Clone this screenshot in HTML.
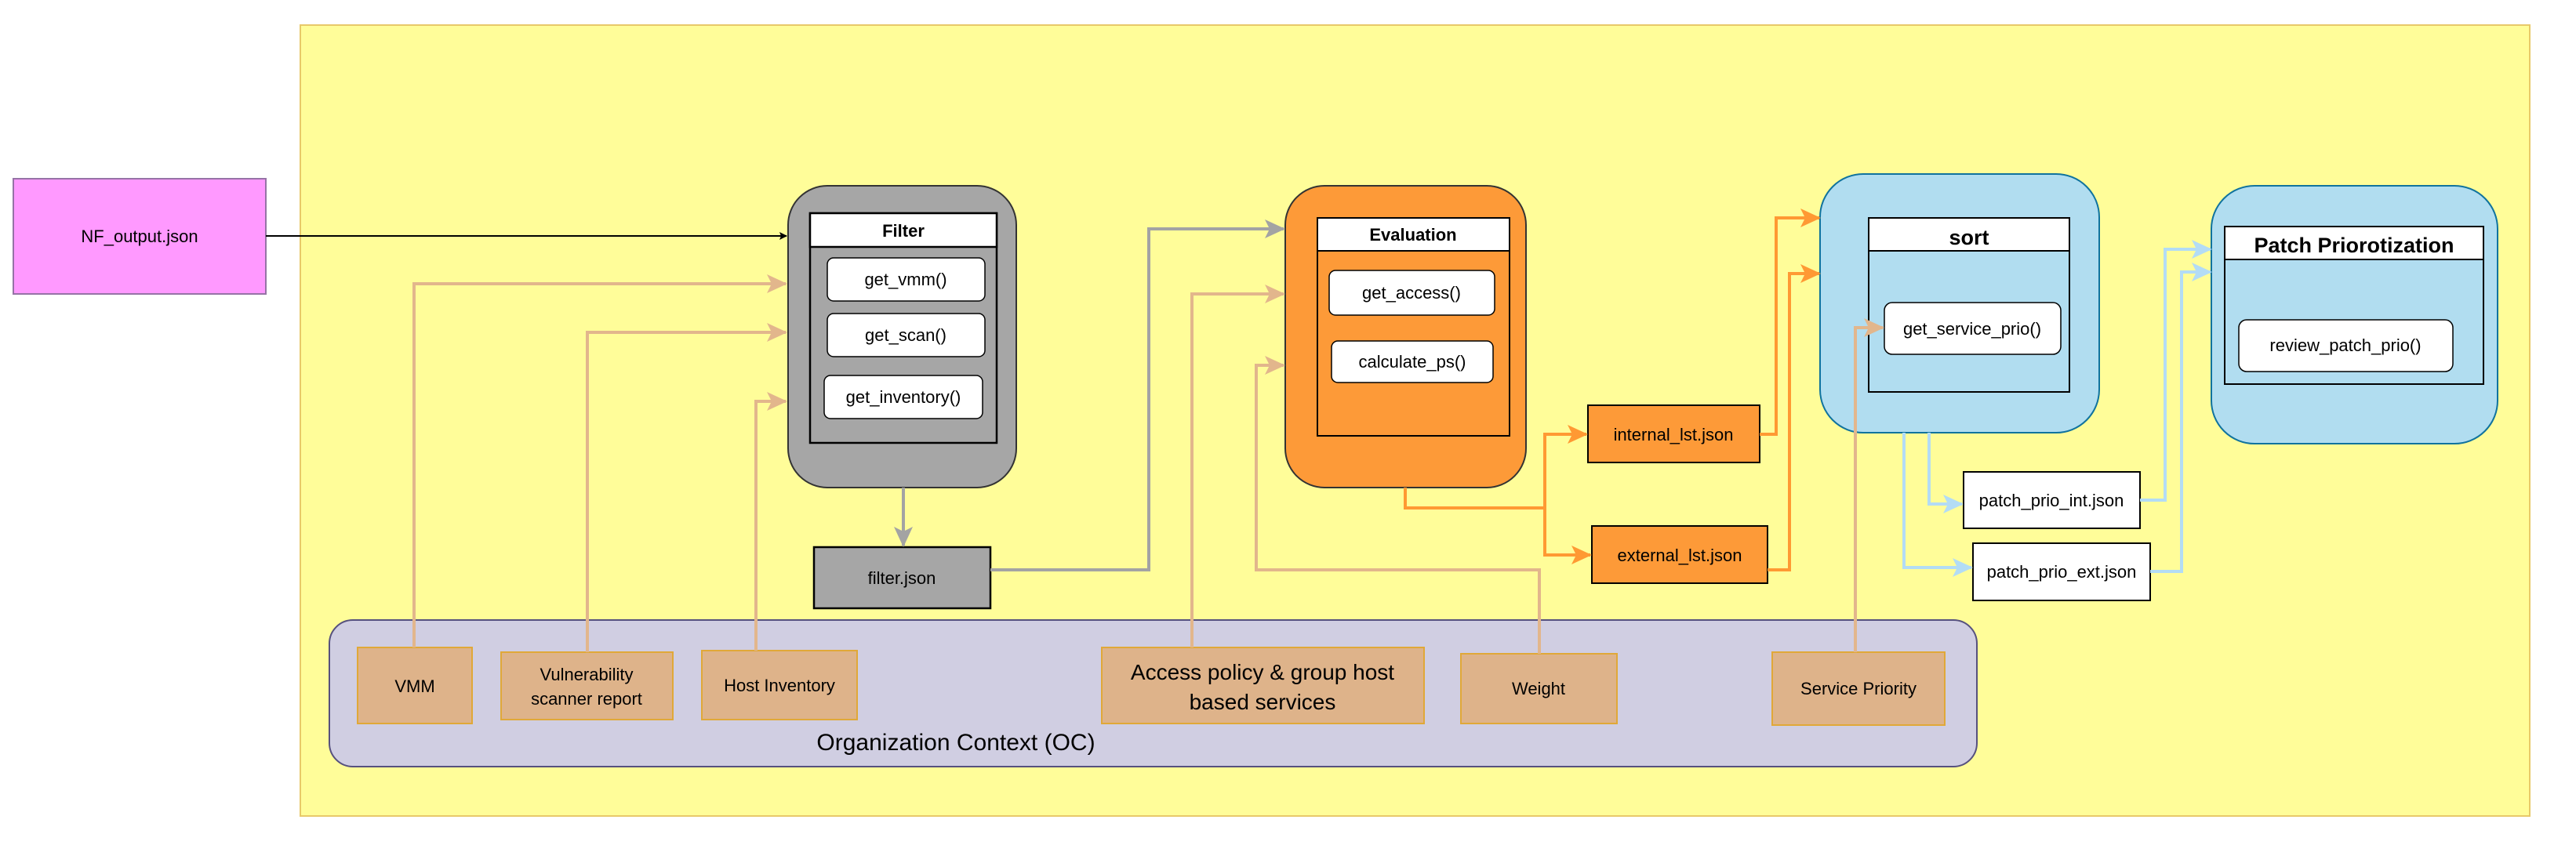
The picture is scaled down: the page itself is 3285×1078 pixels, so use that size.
<!DOCTYPE html>
<html><head><meta charset="utf-8"><style>
html,body{margin:0;padding:0;background:#fff;}
svg{display:block;}
text{font-family:"Liberation Sans",sans-serif;fill:#000;}
</style></head><body>
<svg width="3285" height="1078" viewBox="0 0 3285 1078" xmlns="http://www.w3.org/2000/svg">
<defs>
<marker id="mk" markerWidth="10" markerHeight="10" refX="9" refY="5" orient="auto" markerUnits="userSpaceOnUse" viewBox="0 0 10 10"><path d="M0,0 L10,5 L0,10 L2,5 Z" fill="#000"/></marker>
<marker id="mt" markerWidth="26" markerHeight="26" refX="24" refY="13" orient="auto" markerUnits="userSpaceOnUse" viewBox="0 0 26 26"><path d="M0,1 L26,13 L0,25 L6,13 Z" fill="#e2b68c"/></marker>
<marker id="mg" markerWidth="26" markerHeight="26" refX="24" refY="13" orient="auto" markerUnits="userSpaceOnUse" viewBox="0 0 26 26"><path d="M0,1 L26,13 L0,25 L6,13 Z" fill="#a3a3a3"/></marker>
<marker id="mo" markerWidth="26" markerHeight="26" refX="24" refY="13" orient="auto" markerUnits="userSpaceOnUse" viewBox="0 0 26 26"><path d="M0,1 L26,13 L0,25 L6,13 Z" fill="#ff9933"/></marker>
<marker id="mb" markerWidth="26" markerHeight="26" refX="24" refY="13" orient="auto" markerUnits="userSpaceOnUse" viewBox="0 0 26 26"><path d="M0,1 L26,13 L0,25 L6,13 Z" fill="#b3dcf5"/></marker>
</defs>

<!-- yellow container -->
<rect x="383" y="32" width="2843" height="1009" fill="#fffd99" stroke="#e8c96a" stroke-width="2"/>

<!-- NF_output -->
<rect x="17" y="228" width="322" height="147" fill="#ff99ff" stroke="#9673a6" stroke-width="2"/>
<text x="178" y="309" font-size="22" text-anchor="middle">NF_output.json</text>

<!-- OC -->
<rect x="420" y="791" width="2101" height="187" rx="30" fill="#d0cee2" stroke="#56517e" stroke-width="2"/>
<text x="1219" y="957" font-size="30" text-anchor="middle">Organization Context (OC)</text>

<!-- Filter -->
<rect x="1005" y="237" width="291" height="385" rx="50" fill="#a6a6a6" stroke="#333" stroke-width="2"/>
<rect x="1033" y="272" width="238" height="293" fill="#a6a6a6" stroke="#000" stroke-width="2.5"/>
<rect x="1033" y="272" width="238" height="43" fill="#fff" stroke="#000" stroke-width="2.5"/>
<text x="1152" y="302" font-size="22" font-weight="bold" text-anchor="middle">Filter</text>
<rect x="1055" y="329" width="201" height="55" rx="8" fill="#fff" stroke="#000" stroke-width="1.5"/>
<text x="1155" y="364" font-size="22" text-anchor="middle">get_vmm()</text>
<rect x="1055" y="400" width="201" height="55" rx="8" fill="#fff" stroke="#000" stroke-width="1.5"/>
<text x="1155" y="435" font-size="22" text-anchor="middle">get_scan()</text>
<rect x="1051" y="479" width="202" height="55" rx="8" fill="#fff" stroke="#000" stroke-width="1.5"/>
<text x="1152" y="514" font-size="22" text-anchor="middle">get_inventory()</text>

<!-- filter.json -->
<rect x="1038" y="698" width="225" height="78" fill="#a6a6a6" stroke="#000" stroke-width="2.5"/>
<text x="1150" y="745" font-size="22" text-anchor="middle">filter.json</text>

<!-- Evaluation -->
<rect x="1639" y="237" width="307" height="385" rx="50" fill="#fd9a38" stroke="#333" stroke-width="2"/>
<rect x="1680" y="278" width="245" height="278" fill="#fd9a38" stroke="#000" stroke-width="2"/>
<rect x="1680" y="278" width="245" height="42" fill="#fff" stroke="#000" stroke-width="2"/>
<text x="1802" y="307" font-size="22" font-weight="bold" text-anchor="middle">Evaluation</text>
<rect x="1695" y="345" width="211" height="57" rx="8" fill="#fff" stroke="#000" stroke-width="1.5"/>
<text x="1800" y="381" font-size="22" text-anchor="middle">get_access()</text>
<rect x="1698" y="435" width="206" height="53" rx="8" fill="#fff" stroke="#000" stroke-width="1.5"/>
<text x="1801" y="469" font-size="22" text-anchor="middle">calculate_ps()</text>

<!-- internal / external -->
<rect x="2025" y="517" width="219" height="73" fill="#fd9a38" stroke="#000" stroke-width="2"/>
<text x="2134" y="562" font-size="22" text-anchor="middle">internal_lst.json</text>
<rect x="2030" y="671" width="224" height="73" fill="#fd9a38" stroke="#000" stroke-width="2"/>
<text x="2142" y="716" font-size="22" text-anchor="middle">external_lst.json</text>

<!-- sort -->
<rect x="2321" y="222" width="356" height="330" rx="55" fill="#b1ddf0" stroke="#10739e" stroke-width="2"/>
<rect x="2383" y="278" width="256" height="222" fill="#b1ddf0" stroke="#000" stroke-width="2"/>
<rect x="2383" y="278" width="256" height="42" fill="#fff" stroke="#000" stroke-width="2"/>
<text x="2511" y="312" font-size="27" font-weight="bold" text-anchor="middle">sort</text>
<rect x="2403" y="386" width="225" height="66" rx="10" fill="#fff" stroke="#000" stroke-width="1.5"/>
<text x="2515" y="427" font-size="22" text-anchor="middle">get_service_prio()</text>

<!-- patch prio -->
<rect x="2820" y="237" width="365" height="329" rx="55" fill="#b1ddf0" stroke="#10739e" stroke-width="2"/>
<rect x="2837" y="289" width="330" height="201" fill="#b1ddf0" stroke="#000" stroke-width="2"/>
<rect x="2837" y="289" width="330" height="42" fill="#fff" stroke="#000" stroke-width="2"/>
<text x="3002" y="322" font-size="27" font-weight="bold" text-anchor="middle">Patch Priorotization</text>
<rect x="2855" y="408" width="273" height="66" rx="10" fill="#fff" stroke="#000" stroke-width="1.5"/>
<text x="2991" y="448" font-size="22" text-anchor="middle">review_patch_prio()</text>

<!-- patch prio json -->
<rect x="2504" y="602" width="225" height="72" fill="#fff" stroke="#000" stroke-width="2"/>
<text x="2616" y="646" font-size="22" text-anchor="middle">patch_prio_int.json</text>
<rect x="2516" y="693" width="226" height="73" fill="#fff" stroke="#000" stroke-width="2"/>
<text x="2629" y="737" font-size="22" text-anchor="middle">patch_prio_ext.json</text>

<!-- OC items -->
<rect x="456" y="826" width="146" height="97" fill="#deb38a" stroke="#e0a838" stroke-width="2"/>
<text x="529" y="883" font-size="22" text-anchor="middle">VMM</text>
<rect x="639" y="832" width="219" height="86" fill="#deb38a" stroke="#e0a838" stroke-width="2"/>
<text x="748" y="868" font-size="22" text-anchor="middle">Vulnerability</text>
<text x="748" y="899" font-size="22" text-anchor="middle">scanner report</text>
<rect x="895" y="830" width="198" height="88" fill="#deb38a" stroke="#e0a838" stroke-width="2"/>
<text x="994" y="882" font-size="22" text-anchor="middle">Host Inventory</text>
<rect x="1405" y="826" width="411" height="97" fill="#deb38a" stroke="#e0a838" stroke-width="2"/>
<text x="1610" y="867" font-size="28" text-anchor="middle">Access policy &amp; group host</text>
<text x="1610" y="905" font-size="28" text-anchor="middle">based services</text>
<rect x="1863" y="834" width="199" height="89" fill="#deb38a" stroke="#e0a838" stroke-width="2"/>
<text x="1962" y="886" font-size="22" text-anchor="middle">Weight</text>
<rect x="2260" y="832" width="220" height="93" fill="#deb38a" stroke="#e0a838" stroke-width="2"/>
<text x="2370" y="886" font-size="22" text-anchor="middle">Service Priority</text>

<!-- connectors -->
<g fill="none" stroke-linejoin="miter">
<path d="M339,301 H1003" stroke="#000" stroke-width="2" marker-end="url(#mk)"/>
<g stroke="#e2b68c" stroke-width="4">
<path d="M528,826 V362 H1002" marker-end="url(#mt)"/>
<path d="M749,832 V424 H1002" marker-end="url(#mt)"/>
<path d="M964,830 V512 H1002" marker-end="url(#mt)"/>
<path d="M1520,826 V375 H1637" marker-end="url(#mt)"/>
<path d="M1963,834 V727 H1602 V466 H1637" marker-end="url(#mt)"/>
<path d="M2366,832 V418 H2401" marker-end="url(#mt)"/>
</g>
<g stroke="#a3a3a3" stroke-width="4">
<path d="M1152,622 V696" marker-end="url(#mg)"/>
<path d="M1263,727 H1465 V292 H1637" marker-end="url(#mg)"/>
</g>
<g stroke="#ff9933" stroke-width="4">
<path d="M1792,622 V648 H1970 V554 H2023" marker-end="url(#mo)"/>
<path d="M1970,648 V708 H2028" marker-end="url(#mo)"/>
<path d="M2244,554 H2265 V278 H2320" marker-end="url(#mo)"/>
<path d="M2254,727 H2282 V349 H2320" marker-end="url(#mo)"/>
</g>
<g stroke="#b3dcf5" stroke-width="4">
<path d="M2460,552 V643 H2502" marker-end="url(#mb)"/>
<path d="M2428,552 V724 H2514" marker-end="url(#mb)"/>
<path d="M2729,638 H2761 V318 H2819" marker-end="url(#mb)"/>
<path d="M2742,729 H2782 V347 H2819" marker-end="url(#mb)"/>
</g>
</g>
</svg>
</body></html>
